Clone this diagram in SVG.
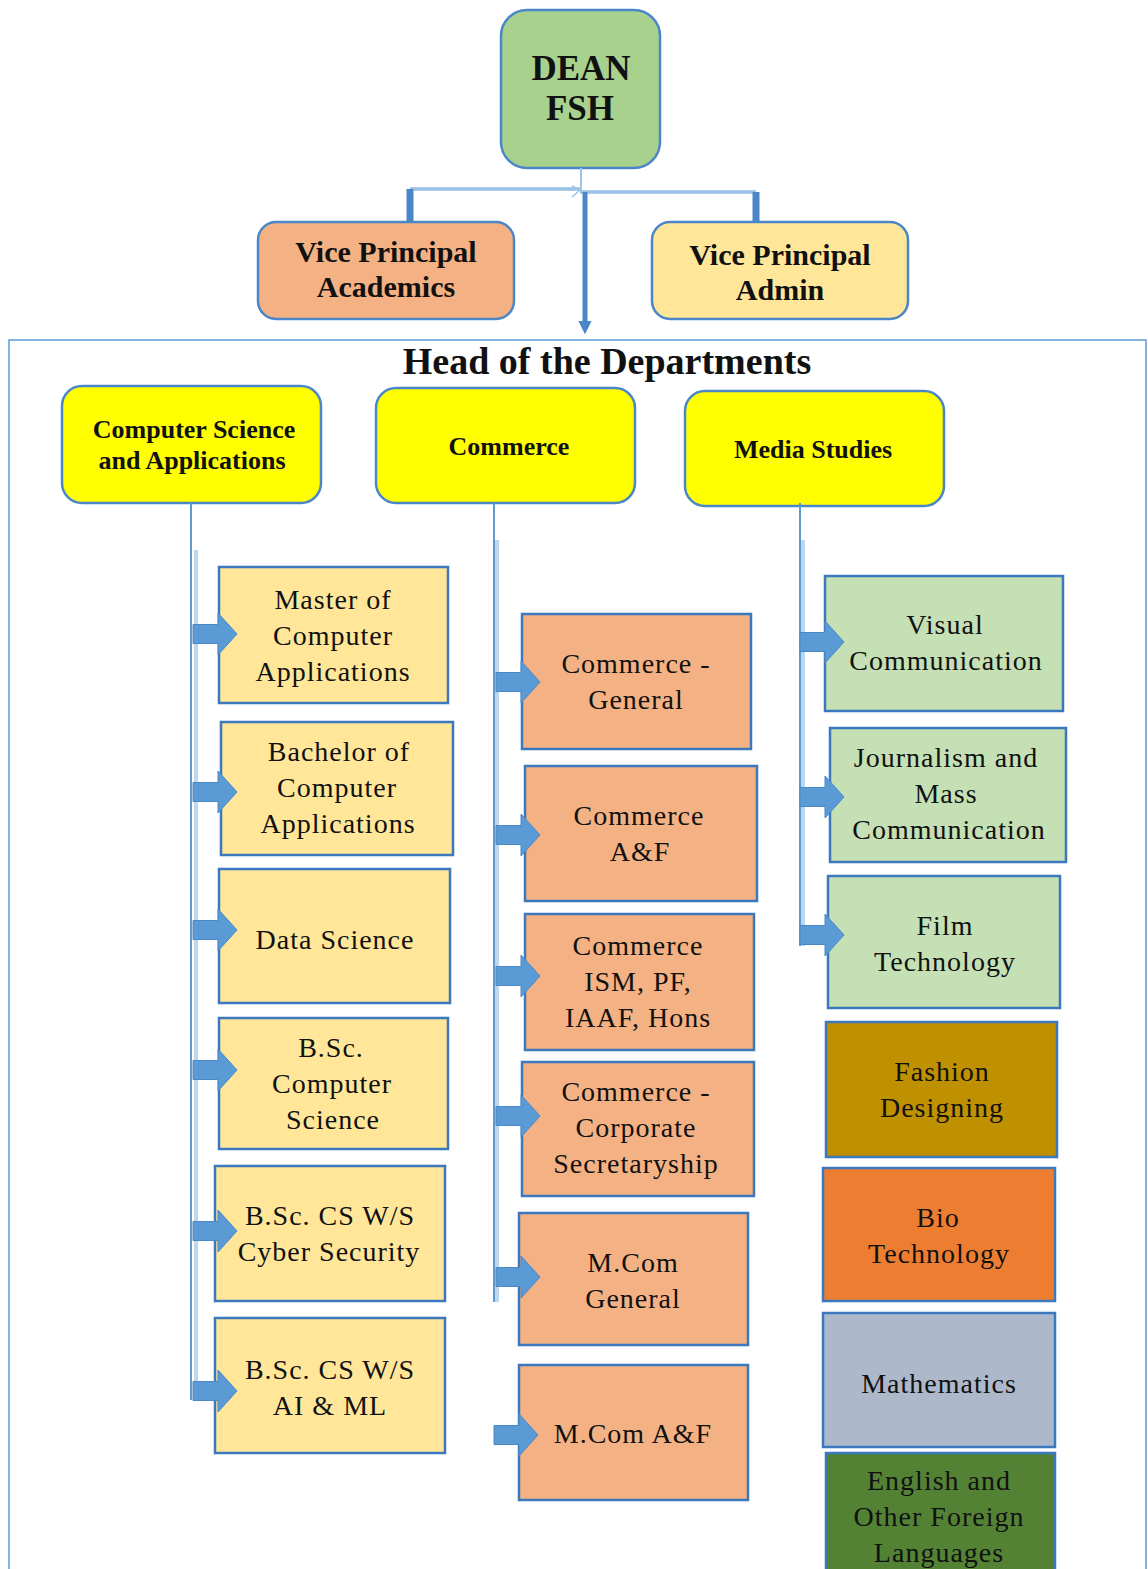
<svg xmlns="http://www.w3.org/2000/svg" width="1148" height="1569" viewBox="0 0 1148 1569">
<style>
.t{font-family:"Liberation Serif","Times New Roman",serif;fill:#111;text-anchor:middle}
.b{font-weight:bold}
.c{font-size:28px;letter-spacing:1px}
.h{font-size:26px;font-weight:bold}
.box{stroke:#3B78BE;stroke-width:2.5}
.rb{stroke:#4A86C8;stroke-width:2.5}
.stem{stroke:#5B9BD5;stroke-width:2;fill:none}
.stem2{stroke:#BDD7EE;stroke-width:4;fill:none}
.arrow{fill:#5B9BD5;stroke:#4A88C8;stroke-width:1}
</style>
<defs>
<path id="ba" d="M0,-9.5 H25 V-21 L44,0 L25,21 V9.5 H0 Z"/>
</defs>
<rect width="1148" height="1569" fill="#fff"/>

<!-- frame -->
<rect x="9" y="340" width="1137" height="1250" fill="none" stroke="#5B9BD5" stroke-width="1.5"/>

<g id="dean">
  <rect x="501" y="10" width="159" height="158" rx="26" fill="#A9D18E" class="rb"/>
  <text class="t b" x="581" y="80" font-size="35">DEAN</text>
  <text class="t b" x="580" y="120" font-size="35">FSH</text>
</g>
<g id="vp-academics">
  <rect x="258" y="222" width="256" height="97" rx="18" fill="#F4B183" class="rb"/>
  <text class="t b" x="386" y="262" font-size="30">Vice Principal</text>
  <text class="t b" x="386" y="297" font-size="30">Academics</text>
</g>
<g id="vp-admin">
  <rect x="652" y="222" width="256" height="97" rx="18" fill="#FFE699" class="rb"/>
  <text class="t b" x="780" y="265" font-size="30">Vice Principal</text>
  <text class="t b" x="780" y="300" font-size="30">Admin</text>
</g>

<text id="hod" class="t b" x="607" y="374" font-size="38">Head of the Departments</text>

<g id="cs">
  <rect x="62" y="386" width="259" height="117" rx="20" fill="#FFFF00" class="rb"/>
  <text class="t h" x="194" y="438">Computer Science</text>
  <text class="t h" x="192" y="469">and Applications</text>
</g>
<g id="commerce">
  <rect x="376" y="388" width="259" height="115" rx="20" fill="#FFFF00" class="rb"/>
  <text class="t h" x="509" y="455">Commerce</text>
</g>
<g id="media">
  <rect x="685" y="391" width="259" height="115" rx="20" fill="#FFFF00" class="rb"/>
  <text class="t h" x="813" y="458">Media Studies</text>
</g>

<g id="mca">
  <rect x="219" y="567" width="229" height="136" fill="#FFE699" class="box"/>
  <text class="t c" x="333" y="609">Master of</text>
  <text class="t c" x="333" y="645">Computer</text>
  <text class="t c" x="333" y="681">Applications</text>
</g>
<g id="bca">
  <rect x="221" y="722" width="232" height="133" fill="#FFE699" class="box"/>
  <text class="t c" x="339" y="761">Bachelor of</text>
  <text class="t c" x="337" y="797">Computer</text>
  <text class="t c" x="338" y="833">Applications</text>
</g>
<g id="ds">
  <rect x="219" y="869" width="231" height="134" fill="#FFE699" class="box"/>
  <text class="t c" x="335" y="949">Data Science</text>
</g>
<g id="bsc-cs">
  <rect x="219" y="1018" width="229" height="131" fill="#FFE699" class="box"/>
  <text class="t c" x="331" y="1057">B.Sc.</text>
  <text class="t c" x="332" y="1093">Computer</text>
  <text class="t c" x="333" y="1129">Science</text>
</g>
<g id="bsc-cyber">
  <rect x="215" y="1166" width="230" height="135" fill="#FFE699" class="box"/>
  <text class="t c" x="330" y="1225">B.Sc. CS W/S</text>
  <text class="t c" x="329" y="1261">Cyber Security</text>
</g>
<g id="bsc-aiml">
  <rect x="215" y="1318" width="230" height="135" fill="#FFE699" class="box"/>
  <text class="t c" x="330" y="1379">B.Sc. CS W/S</text>
  <text class="t c" x="330" y="1415">AI &amp; ML</text>
</g>

<g id="com-general">
  <rect x="522" y="614" width="229" height="135" fill="#F4B183" class="box"/>
  <text class="t c" x="636" y="673">Commerce -</text>
  <text class="t c" x="636" y="709">General</text>
</g>
<g id="com-af">
  <rect x="525" y="766" width="232" height="135" fill="#F4B183" class="box"/>
  <text class="t c" x="639" y="825">Commerce</text>
  <text class="t c" x="640" y="861">A&amp;F</text>
</g>
<g id="com-ism">
  <rect x="525" y="914" width="229" height="136" fill="#F4B183" class="box"/>
  <text class="t c" x="638" y="955">Commerce</text>
  <text class="t c" x="638" y="991">ISM, PF,</text>
  <text class="t c" x="638" y="1027">IAAF, Hons</text>
</g>
<g id="com-cs">
  <rect x="522" y="1062" width="232" height="134" fill="#F4B183" class="box"/>
  <text class="t c" x="636" y="1101">Commerce -</text>
  <text class="t c" x="636" y="1137">Corporate</text>
  <text class="t c" x="636" y="1173">Secretaryship</text>
</g>
<g id="mcom-general">
  <rect x="519" y="1213" width="229" height="132" fill="#F4B183" class="box"/>
  <text class="t c" x="633" y="1272">M.Com</text>
  <text class="t c" x="633" y="1308">General</text>
</g>
<g id="mcom-af">
  <rect x="519" y="1365" width="229" height="135" fill="#F4B183" class="box"/>
  <text class="t c" x="633" y="1443">M.Com A&amp;F</text>
</g>

<g id="viscom">
  <rect x="825" y="576" width="238" height="135" fill="#C5E0B4" class="box"/>
  <text class="t c" x="945" y="634">Visual</text>
  <text class="t c" x="946" y="670">Communication</text>
</g>
<g id="jmc">
  <rect x="830" y="728" width="236" height="134" fill="#C5E0B4" class="box"/>
  <text class="t c" x="946" y="767">Journalism and</text>
  <text class="t c" x="946" y="803">Mass</text>
  <text class="t c" x="949" y="839">Communication</text>
</g>
<g id="film">
  <rect x="828" y="876" width="232" height="132" fill="#C5E0B4" class="box"/>
  <text class="t c" x="945" y="935">Film</text>
  <text class="t c" x="945" y="971">Technology</text>
</g>
<g id="fashion">
  <rect x="826" y="1022" width="231" height="135" fill="#BF9000" class="box"/>
  <text class="t c" x="942" y="1081">Fashion</text>
  <text class="t c" x="942" y="1117">Designing</text>
</g>
<g id="biotech">
  <rect x="823" y="1168" width="232" height="133" fill="#ED7D31" class="box"/>
  <text class="t c" x="938" y="1227">Bio</text>
  <text class="t c" x="939" y="1263">Technology</text>
</g>
<g id="maths">
  <rect x="823" y="1313" width="232" height="134" fill="#ADB9CA" class="box"/>
  <text class="t c" x="939" y="1393">Mathematics</text>
</g>
<g id="english">
  <rect x="826" y="1453" width="229" height="140" fill="#548235" class="box"/>
  <text class="t c" x="939" y="1490">English and</text>
  <text class="t c" x="939" y="1526">Other Foreign</text>
  <text class="t c" x="939" y="1562">Languages</text>
</g>

<g id="connectors">
  <path d="M581,168 V190" stroke="#9DC3E6" stroke-width="2" fill="none"/>
  <path d="M410,189 H580" stroke="#5B9BD5" stroke-width="3" fill="none"/>
  <path d="M410,189 H580" stroke="#DEEBF7" stroke-width="1" fill="none"/>
  <path d="M580,192 H756" stroke="#5B9BD5" stroke-width="3" fill="none"/>
  <path d="M580,192 H756" stroke="#DEEBF7" stroke-width="1" fill="none"/>
  <path d="M572,186 L580,190 L572,197" stroke="#9DC3E6" stroke-width="1.5" fill="none"/>
  <path d="M410,189 V222" stroke="#4A86C8" stroke-width="7"/>
  <path d="M756,192 V222" stroke="#4A86C8" stroke-width="7"/>
  <path d="M585,192 V326" stroke="#4A86C8" stroke-width="5"/>
  <path d="M580,322 L585,332 L590,322 Z" fill="#4A86C8" stroke="#4A86C8" stroke-width="2"/>

  <path class="stem" d="M191,503 V1400"/>
  <path class="stem2" d="M196,550 V1400"/>
  <path class="stem" d="M494,503 V1302"/>
  <path class="stem2" d="M497,540 V1302"/>
  <path class="stem" d="M800,503 V946"/>
  <path class="stem2" d="M803,540 V946"/>

  <use href="#ba" class="arrow" x="193" y="634"/>
  <use href="#ba" class="arrow" x="193" y="792"/>
  <use href="#ba" class="arrow" x="193" y="930"/>
  <use href="#ba" class="arrow" x="193" y="1070"/>
  <use href="#ba" class="arrow" x="193" y="1231"/>
  <use href="#ba" class="arrow" x="193" y="1391"/>

  <use href="#ba" class="arrow" x="496" y="682"/>
  <use href="#ba" class="arrow" x="496" y="835"/>
  <use href="#ba" class="arrow" x="496" y="976"/>
  <use href="#ba" class="arrow" x="496" y="1116"/>
  <use href="#ba" class="arrow" x="496" y="1277"/>
  <use href="#ba" class="arrow" x="494" y="1435"/>

  <use href="#ba" class="arrow" x="800" y="642"/>
  <use href="#ba" class="arrow" x="800" y="797"/>
  <use href="#ba" class="arrow" x="800" y="935"/>
</g>
</svg>
